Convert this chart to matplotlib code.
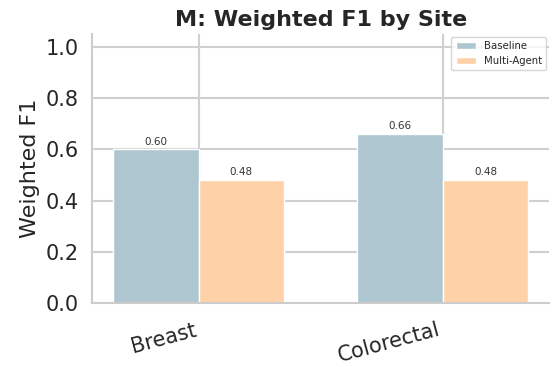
import numpy as np
import matplotlib
matplotlib.use('Agg')
import matplotlib.pyplot as plt
import seaborn as sns

sites = ['Breast', 'Colorectal']
baseline = [0.60, 0.66]
multi_agent = [0.48, 0.48]
series_names = ['Baseline', 'Multi-Agent']
colores = ['#aec6cf', '#ffd1a8']

sns.set_theme(style='whitegrid')
plt.rcParams['font.family'] = ['DejaVu Sans']

fig, ax = plt.subplots(figsize=(5.52, 3.67), dpi=100)
x = np.arange(len(sites))
ancho = 0.35

b1 = ax.bar(x - ancho / 2, baseline, ancho, label=series_names[0], color=colores[0],
            edgecolor='white', linewidth=1)
b2 = ax.bar(x + ancho / 2, multi_agent, ancho, label=series_names[1], color=colores[1],
            edgecolor='white', linewidth=1)
for barras in (b1, b2):
    ax.bar_label(barras, fmt='%.2f', fontsize=7.5, padding=2, color='#333333')

ax.set_ylim(0, 1.05)
ax.set_yticks(np.arange(0, 1.01, 0.2))
ax.set_xticks(x)
ax.set_xticklabels(sites, rotation=15, ha='right', fontsize=15)
ax.tick_params(axis='y', labelsize=15)
ax.tick_params(axis='x', pad=6)
ax.set_ylabel('Weighted F1', fontsize=16)
ax.set_title('M: Weighted F1 by Site', fontsize=16, fontweight='bold')
ax.grid(linewidth=1.5, color='#d0d0d0')
ax.legend(fontsize=7.3, loc='upper right', borderaxespad=0.3)
sns.despine(ax=ax)
for s in ('left', 'bottom'):
    ax.spines[s].set_color('#cccccc')
    ax.spines[s].set_linewidth(1.5)

fig.subplots_adjust(left=0.167, right=0.995, top=0.907, bottom=0.174)
fig.savefig('out.png', dpi=100)
